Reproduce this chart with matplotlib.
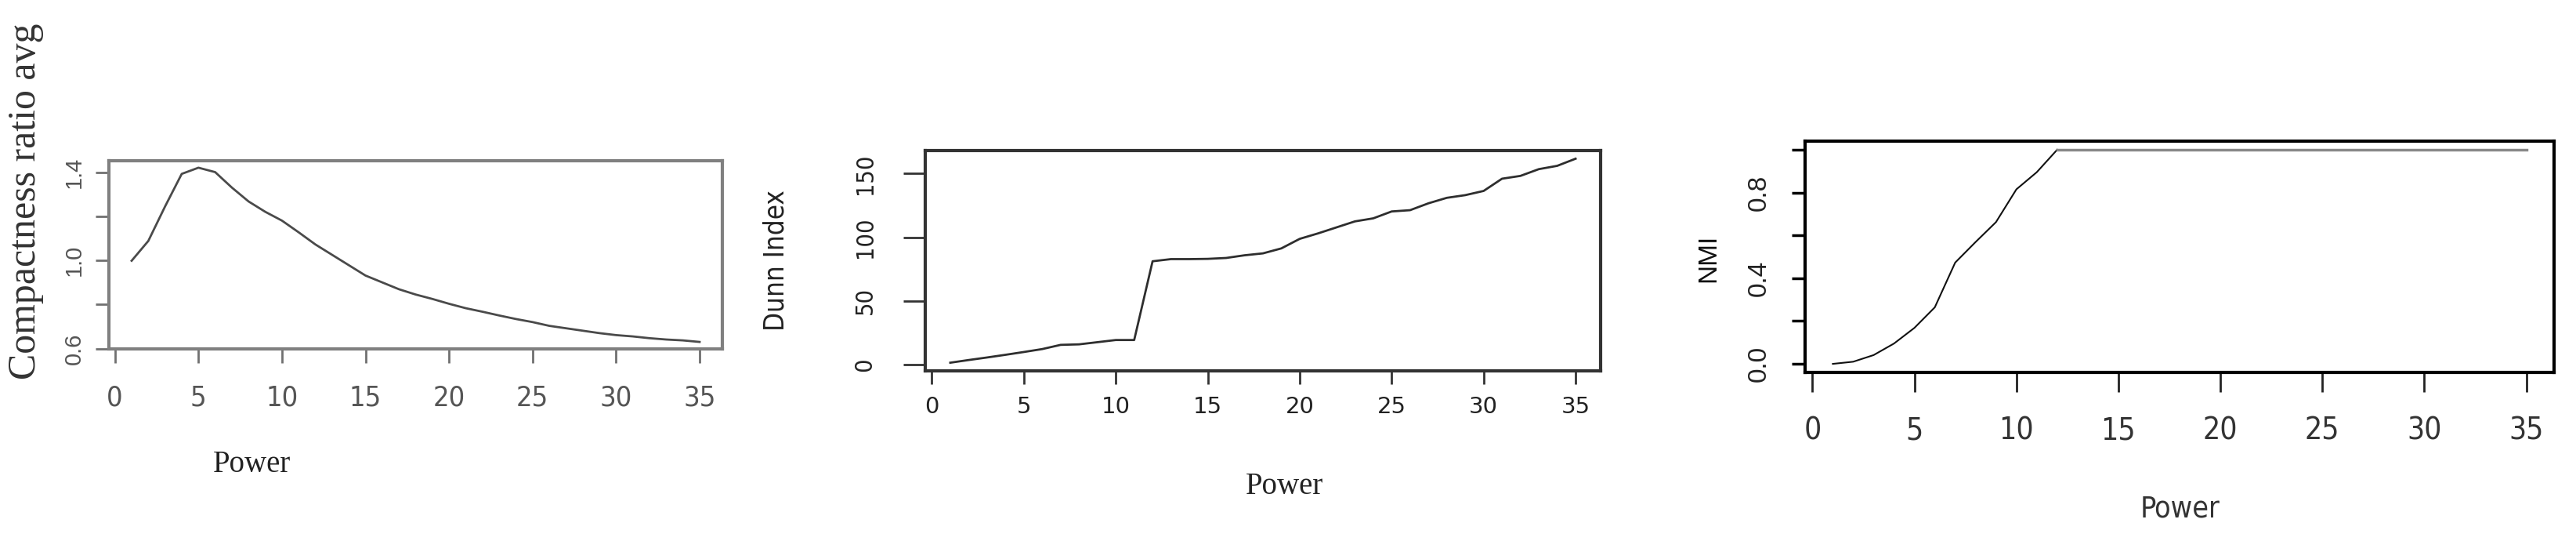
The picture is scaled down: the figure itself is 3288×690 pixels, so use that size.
import matplotlib
matplotlib.use('Agg')
import matplotlib.pyplot as plt
from matplotlib import font_manager

# values
power = list(range(1, 36))
compactness = [0.998, 1.088, 1.244, 1.392, 1.420, 1.400, 1.330, 1.267, 1.220, 1.180,
               1.127, 1.072, 1.025, 0.978, 0.931, 0.900, 0.869, 0.845, 0.825, 0.803,
               0.783, 0.767, 0.750, 0.734, 0.720, 0.703, 0.692, 0.681, 0.670, 0.661,
               0.655, 0.647, 0.641, 0.637, 0.630]
dunn = [1.5, 3.6, 5.6, 7.7, 9.9, 12.2, 15.5, 15.9, 17.6, 19.3,
        19.3, 81.1, 82.8, 82.8, 83.0, 83.7, 85.8, 87.3, 91.2, 98.7,
        103.0, 107.7, 112.4, 114.8, 120.2, 121.2, 126.6, 130.9, 133.0, 136.3,
        145.9, 148.1, 153.4, 156.0, 161.6]
nmi = [0.000, 0.010, 0.041, 0.095, 0.168, 0.264, 0.473, 0.569, 0.662, 0.815,
       0.895, 1.0, 1.0, 1.0, 1.0, 1.0, 1.0, 1.0, 1.0, 1.0,
       1.0, 1.0, 1.0, 1.0, 1.0, 1.0, 1.0, 1.0, 1.0, 1.0,
       1.0, 1.0, 1.0, 1.0, 1.0]

x_ticks = [0, 5, 10, 15, 20, 25, 30, 35]
comp_ticks = [0.6, 0.8, 1.0, 1.2, 1.4]
comp_labels = ['0.6', '', '1.0', '', '1.4']
dunn_ticks = [0, 50, 100, 150]
nmi_ticks = [0.0, 0.2, 0.4, 0.6, 0.8, 1.0]
nmi_labels = ['0.0', '', '0.4', '', '0.8', '']


# look for a condensed sans face (the R plots use Arial Narrow-like text)
def find_narrow():
    for f in font_manager.fontManager.ttflist:
        if f.name == 'Liberation Sans Narrow' and f.weight in (400, 'normal', 'regular') \
                and f.style == 'normal':
            return f.fname
    for f in font_manager.fontManager.ttflist:
        if 'Sans' in f.name and 'Mono' not in f.name and f.style == 'normal' \
                and f.stretch in ('condensed', 'semi-condensed') \
                and f.weight in (400, 'normal', 'regular'):
            return f.fname
    return None


narrow_path = find_narrow()
serif = 'Liberation Serif'
sans = 'Liberation Sans'


def narrow_font(size):
    if narrow_path:
        return font_manager.FontProperties(fname=narrow_path, size=size)
    return font_manager.FontProperties(family=sans, size=size * 0.88)


W, H = 3288, 690
fig = plt.figure(figsize=(W / 100, H / 100), dpi=100)


def box(left, top, right, bottom):
    return [left / W, 1 - bottom / H, (right - left) / W, (bottom - top) / H]


def style(ax, col, lw):
    for s in ax.spines.values():
        s.set_color(col)
        s.set_linewidth(lw)
    ax.margins(x=0.04, y=0.04)
    ax.set_xticks(x_ticks)


# panel 1: compactness
ax1 = fig.add_axes(box(139, 205, 922, 445))
ax1.plot(power, compactness, color='#4a4a4a', lw=2.0)
style(ax1, '#808080', 3)
ax1.set_yticks(comp_ticks)
ax1.set_yticklabels(comp_labels)
ax1.tick_params(axis='x', length=13, width=2, color='#707070', pad=20, labelcolor='#555555')
ax1.tick_params(axis='y', length=12, width=2, color='#707070', pad=10,
                labelsize=21, labelcolor='#555555', labelrotation=90)
for t in ax1.get_xticklabels():
    t.set_fontproperties(narrow_font(26))
for t in ax1.get_yticklabels():
    t.set_family(sans)
    t.set_va('center')
fig.text(33 / W, 1 - 257 / H, 'Compactness ratio avg', rotation=90, ha='center',
         va='center', family=serif, fontsize=36, color='#333333')
fig.text(321 / W, 1 - 592 / H, 'Power', ha='center', va='center', family=serif,
         fontsize=28, color='#222222')

# panel 2: Dunn index
ax2 = fig.add_axes(box(1181, 192, 2043, 473))
ax2.plot(power, dunn, color='#2e2e2e', lw=2.0)
style(ax2, '#333333', 3)
ax2.set_yticks(dunn_ticks)
ax2.tick_params(axis='x', length=12, width=2, color='#333333', pad=11,
                labelsize=21, labelcolor='#222222')
ax2.tick_params(axis='y', length=20, width=2, color='#333333', pad=25,
                labelcolor='#222222', labelrotation=90)
for t in ax2.get_xticklabels():
    t.set_family('DejaVu Sans')
for t in ax2.get_yticklabels():
    t.set_fontproperties(narrow_font(22))
    t.set_va('center')
fig.text(990 / W, 1 - 332 / H, 'Dunn Index', rotation=90, ha='center', va='center',
         fontproperties=narrow_font(25), color='#222222')
fig.text(1639 / W, 1 - 620 / H, 'Power', ha='center', va='center', family=serif,
         fontsize=28, color='#222222')

# panel 3: NMI
ax3 = fig.add_axes(box(2304, 180, 3260, 475))
ax3.plot(power[:12], nmi[:12], color='#111111', lw=1.5)
ax3.plot(power[11:], nmi[11:], color='#888888', lw=2.5)
style(ax3, '#000000', 3)
ax3.set_yticks(nmi_ticks)
ax3.set_yticklabels(nmi_labels)
ax3.tick_params(axis='x', length=18, width=2, color='#222222', pad=22, labelcolor='#333333')
ax3.tick_params(axis='y', length=12, width=2.5, color='#000000', pad=19,
                labelsize=24, labelcolor='#222222', labelrotation=90)
for t in ax3.get_xticklabels():
    t.set_fontproperties(narrow_font(28))
for t in ax3.get_yticklabels():
    t.set_family(sans)
    t.set_va('center')
fig.text(2181 / W, 1 - 329 / H, 'NMI', rotation=90, ha='center', va='center',
         family=sans, fontsize=24, color='#111111')
fig.text(2783 / W, 1 - 650 / H, 'Power', ha='center', va='center',
         fontproperties=narrow_font(27), color='#333333')

fig.savefig('out.png', dpi=100)
